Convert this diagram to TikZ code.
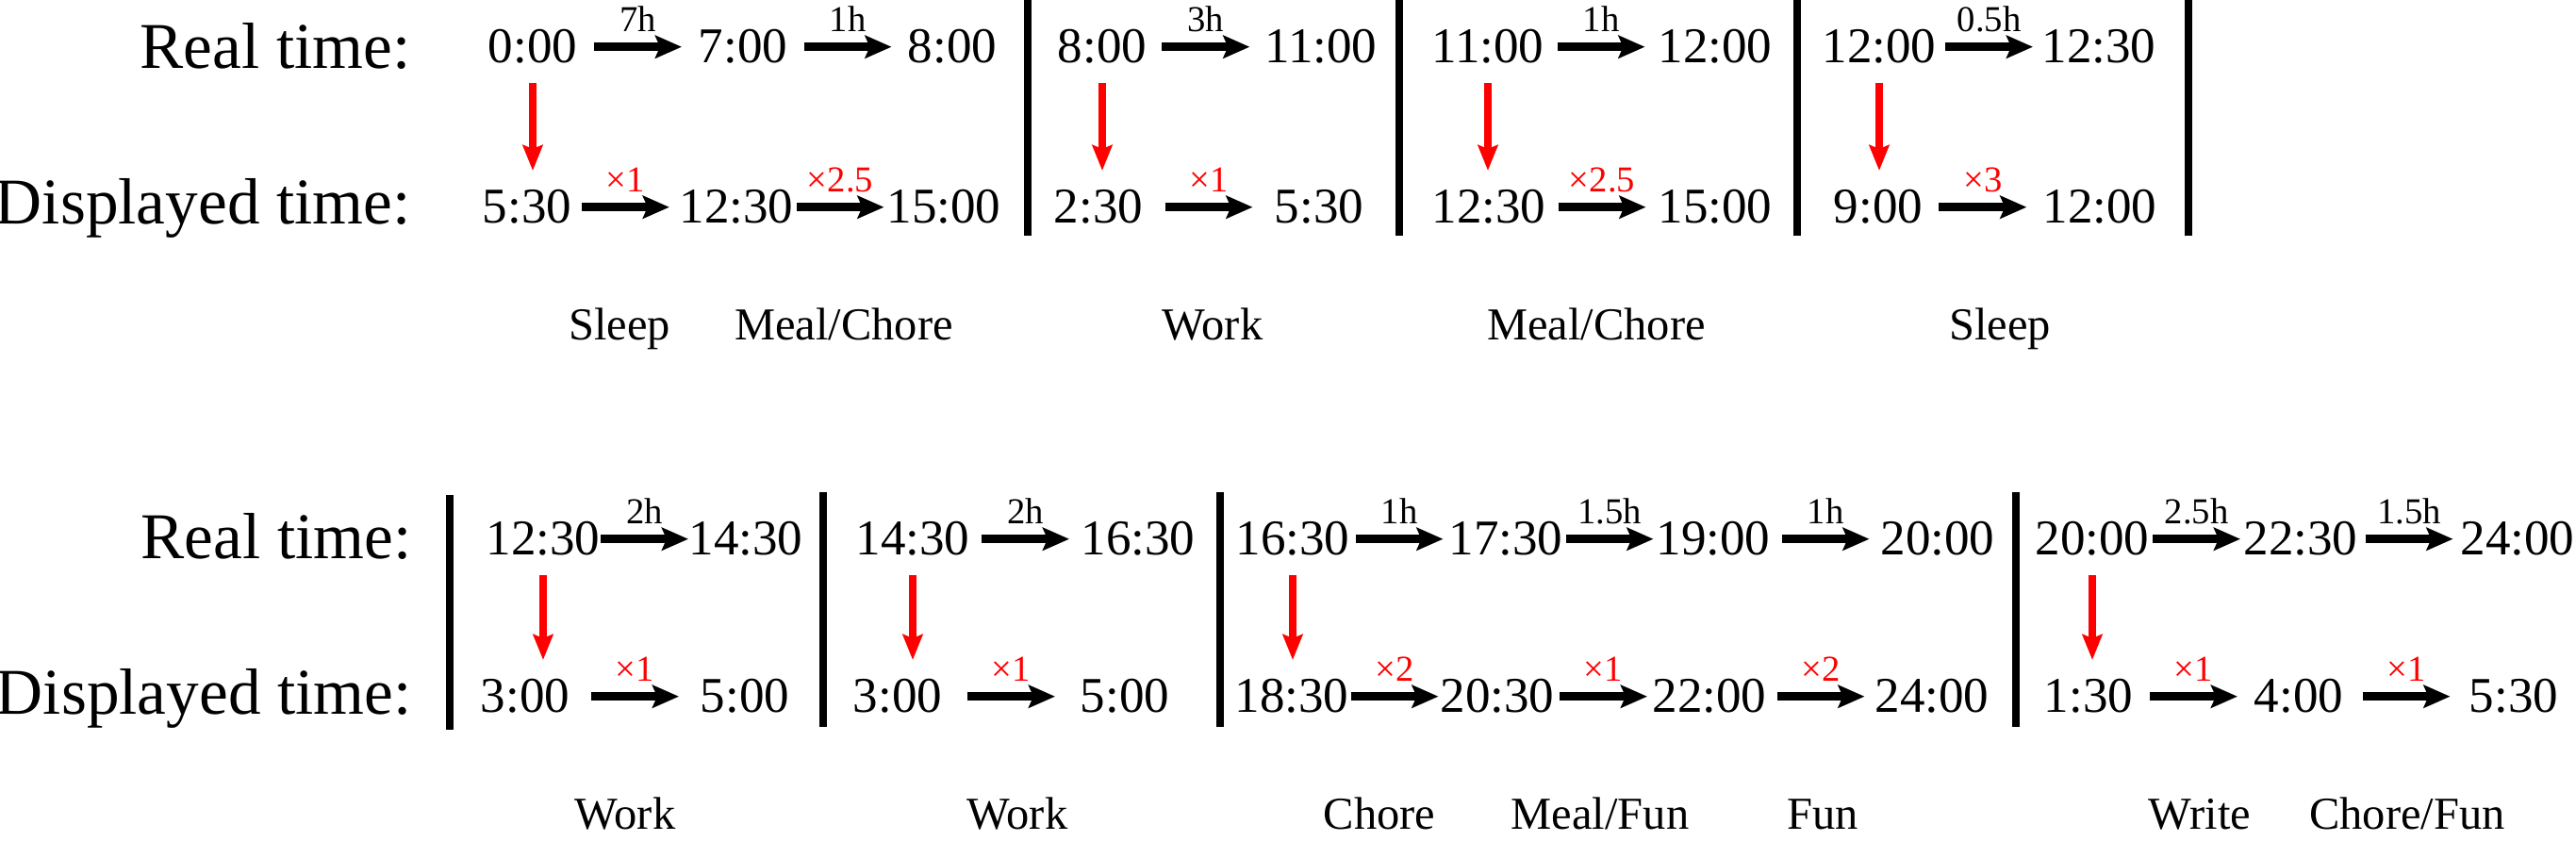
\documentclass[tikz,border=0pt]{standalone}
\usepackage{fontspec}
\setmainfont{Liberation Serif}
\usetikzlibrary{arrows.meta,calc}

% fixed-length arrow centred between two time nodes, with its label
\newcommand{\timestep}[4]{%
  \draw[steparrow] ($(#1.east)!0.5!(#2.west) + (-0.465,0)$) -- ++(0.93,0)
    node[midway, #3] {#4};}

\begin{document}
\begin{tikzpicture}[
    rowlabel/.style={anchor=base east, inner sep=0pt, font=\fontsize{19.7}{23}\selectfont},
    timenode/.style={anchor=base, inner sep=0pt, font=\fontsize{15.1}{18}\selectfont},
    activity/.style={anchor=base, inner sep=0pt, font=\fontsize{13.8}{16}\selectfont},
    durlabel/.style={anchor=base, inner sep=0pt, yshift=0.16cm, font=\fontsize{11}{13}\selectfont},
    ratelabel/.style={durlabel, text=red},
    steparrow/.style={line width=0.09cm, -{Stealth[length=0.28cm, width=0.24cm, inset=0.05cm]}},
    maparrow/.style={red, line width=0.08cm, shorten <=0.2cm, shorten >=0.2cm,
        -{Stealth[length=0.27cm, width=0.21cm, inset=0.04cm]}},
    divider/.style={line width=0.08cm}
]
    \useasboundingbox (0,0) rectangle (27.32,8.92);

    % Top block: row labels
    \node[rowlabel] (trlabel) at (4.36,8.19) {Real time:};
    \node[rowlabel] (tdlabel) at (4.36,6.54) {Displayed time:};

    % Top block: real times
    \node[timenode] (tr1) at (5.65,8.25) {0:00};
    \node[timenode] (tr2) at (7.88,8.25) {7:00};
    \node[timenode] (tr3) at (10.10,8.25) {8:00};
    \node[timenode] (tr4) at (11.69,8.25) {8:00};
    \node[timenode] (tr5) at (14.01,8.25) {11:00};
    \node[timenode] (tr6) at (15.78,8.25) {11:00};
    \node[timenode] (tr7) at (18.19,8.25) {12:00};
    \node[timenode] (tr8) at (19.93,8.25) {12:00};
    \node[timenode] (tr9) at (22.26,8.25) {12:30};

    % Top block: displayed times
    \node[timenode] (td1) at (5.59,6.55) {5:30};
    \node[timenode] (td2) at (7.81,6.55) {12:30};
    \node[timenode] (td3) at (10.01,6.55) {15:00};
    \node[timenode] (td4) at (11.65,6.55) {2:30};
    \node[timenode] (td5) at (13.99,6.55) {5:30};
    \node[timenode] (td6) at (15.79,6.55) {12:30};
    \node[timenode] (td7) at (18.19,6.55) {15:00};
    \node[timenode] (td8) at (19.92,6.55) {9:00};
    \node[timenode] (td9) at (22.27,6.55) {12:00};

    % Top block: steps
    \timestep{tr1}{tr2}{durlabel}{7h}
    \timestep{tr2}{tr3}{durlabel}{1h}
    \timestep{tr4}{tr5}{durlabel}{3h}
    \timestep{tr6}{tr7}{durlabel}{1h}
    \timestep{tr8}{tr9}{durlabel}{0.5h}
    \timestep{td1}{td2}{ratelabel}{×1}
    \timestep{td2}{td3}{ratelabel}{×2.5}
    \timestep{td4}{td5}{ratelabel}{×1}
    \timestep{td6}{td7}{ratelabel}{×2.5}
    \timestep{td8}{td9}{ratelabel}{×3}

    % Top block: real -> displayed
    \draw[maparrow] (tr1.south) -- (tr1.south |- td1.north);
    \draw[maparrow] (tr4.south) -- (tr4.south |- td4.north);
    \draw[maparrow] (tr6.south) -- (tr6.south |- td6.north);
    \draw[maparrow] (tr8.south) -- (tr8.south |- td8.north);

    % Top block: dividers
    \draw[divider] (10.90,8.92) -- (10.90,6.42);
    \draw[divider] (14.84,8.92) -- (14.84,6.42);
    \draw[divider] (19.06,8.92) -- (19.06,6.42);
    \draw[divider] (23.21,8.92) -- (23.21,6.42);

    % Top block: activities
    \node[activity] (tact1) at (6.57,5.31) {Sleep};
    \node[activity] (tact2) at (8.95,5.31) {Meal/Chore};
    \node[activity] (tact3) at (12.86,5.31) {Work};
    \node[activity] (tact4) at (16.93,5.31) {Meal/Chore};
    \node[activity] (tact5) at (21.21,5.31) {Sleep};

    % Bottom block: row labels
    \node[rowlabel] (brlabel) at (4.37,2.99) {Real time:};
    \node[rowlabel] (bdlabel) at (4.37,1.34) {Displayed time:};

    % Bottom block: real times
    \node[timenode] (br1) at (5.76,3.03) {12:30};
    \node[timenode] (br2) at (7.91,3.03) {14:30};
    \node[timenode] (br3) at (9.68,3.03) {14:30};
    \node[timenode] (br4) at (12.07,3.03) {16:30};
    \node[timenode] (br5) at (13.71,3.03) {16:30};
    \node[timenode] (br6) at (15.97,3.03) {17:30};
    \node[timenode] (br7) at (18.17,3.03) {19:00};
    \node[timenode] (br8) at (20.55,3.03) {20:00};
    \node[timenode] (br9) at (22.19,3.03) {20:00};
    \node[timenode] (br10) at (24.40,3.03) {22:30};
    \node[timenode] (br11) at (26.70,3.03) {24:00};

    % Bottom block: displayed times
    \node[timenode] (bd1) at (5.57,1.36) {3:00};
    \node[timenode] (bd2) at (7.90,1.36) {5:00};
    \node[timenode] (bd3) at (9.52,1.36) {3:00};
    \node[timenode] (bd4) at (11.93,1.36) {5:00};
    \node[timenode] (bd5) at (13.70,1.36) {18:30};
    \node[timenode] (bd6) at (15.88,1.36) {20:30};
    \node[timenode] (bd7) at (18.13,1.36) {22:00};
    \node[timenode] (bd8) at (20.49,1.36) {24:00};
    \node[timenode] (bd9) at (22.15,1.36) {1:30};
    \node[timenode] (bd10) at (24.38,1.36) {4:00};
    \node[timenode] (bd11) at (26.66,1.36) {5:30};

    % Bottom block: steps
    \timestep{br1}{br2}{durlabel}{2h}
    \timestep{br3}{br4}{durlabel}{2h}
    \timestep{br5}{br6}{durlabel}{1h}
    \timestep{br6}{br7}{durlabel}{1.5h}
    \timestep{br7}{br8}{durlabel}{1h}
    \timestep{br9}{br10}{durlabel}{2.5h}
    \timestep{br10}{br11}{durlabel}{1.5h}
    \timestep{bd1}{bd2}{ratelabel}{×1}
    \timestep{bd3}{bd4}{ratelabel}{×1}
    \timestep{bd5}{bd6}{ratelabel}{×2}
    \timestep{bd6}{bd7}{ratelabel}{×1}
    \timestep{bd7}{bd8}{ratelabel}{×2}
    \timestep{bd9}{bd10}{ratelabel}{×1}
    \timestep{bd10}{bd11}{ratelabel}{×1}

    % Bottom block: real -> displayed
    \draw[maparrow] (br1.south) -- (br1.south |- bd1.north);
    \draw[maparrow] (br3.south) -- (br3.south |- bd3.north);
    \draw[maparrow] (br5.south) -- (br5.south |- bd5.north);
    \draw[maparrow] (br9.south) -- (br9.south |- bd9.north);

    % Bottom block: dividers
    \draw[divider] (4.77,3.67) -- (4.77,1.18);
    \draw[divider] (8.73,3.70) -- (8.73,1.21);
    \draw[divider] (12.94,3.70) -- (12.94,1.21);
    \draw[divider] (21.38,3.70) -- (21.38,1.21);

    % Bottom block: activities
    \node[activity] (bact1) at (6.63,0.12) {Work};
    \node[activity] (bact2) at (10.79,0.12) {Work};
    \node[activity] (bact3) at (14.63,0.12) {Chore};
    \node[activity] (bact4) at (16.97,0.12) {Meal/Fun};
    \node[activity] (bact5) at (19.33,0.12) {Fun};
    \node[activity] (bact6) at (23.33,0.12) {Write};
    \node[activity] (bact7) at (25.53,0.12) {Chore/Fun};
\end{tikzpicture}
\end{document}
